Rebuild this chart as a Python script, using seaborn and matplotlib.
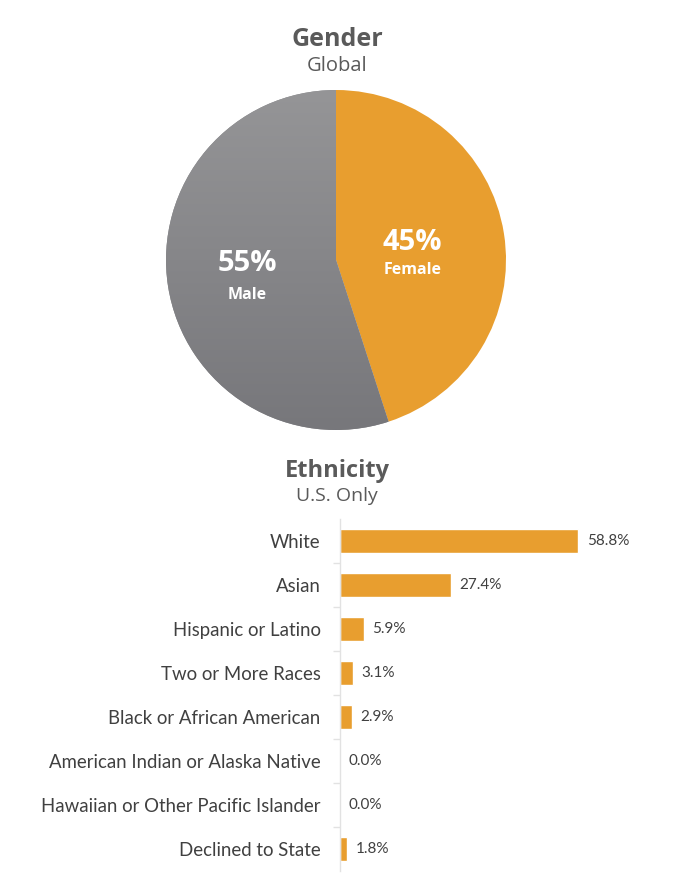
import numpy as np
import pandas as pd
import matplotlib
matplotlib.use('Agg')
import matplotlib.pyplot as plt
import seaborn as sns

# Gender split (global)
gender_labels = ['Female', 'Male']
gender_pct = [45, 55]

# Ethnicity split (U.S. only)
ethnicity = ['White', 'Asian', 'Hispanic or Latino', 'Two or More Races',
             'Black or African American', 'American Indian or Alaska Native',
             'Hawaiian or Other Pacific Islander', 'Declined to State']
ethnicity_pct = [58.8, 27.4, 5.9, 3.1, 2.9, 0.0, 0.0, 1.8]

ORANGE = '#E89E2F'
GRAY = '#8A8A8D'
TITLE_COL = '#5A5A5A'
TEXT_COL = '#404040'

sns.set_theme(style='white')
plt.rcParams['font.family'] = ['Lato', 'DejaVu Sans']

fig = plt.figure(figsize=(6.74, 8.85), dpi=100)
W, H = 674, 885

def fy(y):
    return 1 - y / H

# ---- Gender pie ----
r_px = 170
cx, cy = 336, 260
ax_pie = fig.add_axes([(cx - r_px) / W, (H - cy - r_px) / H, 2 * r_px / W, 2 * r_px / H])
wedges, _ = ax_pie.pie(gender_pct, colors=[ORANGE, GRAY], startangle=90,
                       counterclock=False, radius=1.0,
                       wedgeprops=dict(linewidth=0))
ax_pie.set_xlim(-1, 1)
ax_pie.set_ylim(-1, 1)
ax_pie.set_aspect('equal')
ax_pie.axis('off')

# slightly darker toward the bottom on the gray wedge
grad = np.linspace(0, 1, 256).reshape(-1, 1)
cmap = matplotlib.colors.LinearSegmentedColormap.from_list('g', ['#959597', '#77777B'])
im = ax_pie.imshow(grad, extent=[-1, 1, -1, 1], cmap=cmap, origin='upper',
                   aspect='auto', zorder=3)
im.set_clip_path(wedges[1])

ax_pie.text(0.45, 0.105, f'{gender_pct[0]}%', ha='center', va='center',
            color='white', fontsize=21, fontweight='bold', family=['Open Sans'], zorder=5)
ax_pie.text(0.45, -0.06, gender_labels[0], ha='center', va='center',
            color='white', fontsize=11.5, fontweight='bold', family=['Open Sans'], zorder=5)
ax_pie.text(-0.52, -0.02, f'{gender_pct[1]}%', ha='center', va='center',
            color='white', fontsize=21, fontweight='bold', family=['Open Sans'], zorder=5)
ax_pie.text(-0.52, -0.205, gender_labels[1], ha='center', va='center',
            color='white', fontsize=11.5, fontweight='bold', family=['Open Sans'], zorder=5)

fig.text(337 / W, fy(40), 'Gender', ha='center', va='center', color=TITLE_COL,
         fontsize=18, fontweight='bold', family=['Open Sans'])
fig.text(337 / W, fy(66), 'Global', ha='center', va='center', color=TITLE_COL,
         fontsize=14.5, family=['Open Sans'])

# ---- Ethnicity bars ----
df = pd.DataFrame({'group': ethnicity, 'pct': ethnicity_pct})
x0, x1 = 340, 664
top, bot = 519, 871
ax = fig.add_axes([x0 / W, (H - bot) / H, (x1 - x0) / W, (bot - top) / H])
sns.barplot(data=df, x='pct', y='group', orient='h', color=ORANGE,
            saturation=1, width=0.56, ax=ax)
ax.set_xlim(0, 80)
ax.set_ylim(len(ethnicity) - 0.5, -0.5)
for s in ['top', 'right', 'bottom']:
    ax.spines[s].set_visible(False)
ax.spines['left'].set_color('#E2E2E2')
ax.spines['left'].set_linewidth(1)
ax.set_xticks([])
ax.set_xlabel('')
ax.set_ylabel('')
ax.set_yticks(range(len(ethnicity)))
ax.set_yticklabels(ethnicity, fontsize=13.4, color=TEXT_COL)
ax.tick_params(axis='y', length=0, pad=14)
ax.set_yticks(np.arange(0.5, len(ethnicity) - 0.5, 1), minor=True)
ax.tick_params(axis='y', which='minor', length=5, color='#E2E2E2', width=1, left=True)
for i, v in enumerate(ethnicity_pct):
    ax.text(v + 2.1, i, f'{v:.1f}%', va='center', ha='left', fontsize=11, color=TEXT_COL)

fig.text(337 / W, fy(471), 'Ethnicity', ha='center', va='center', color=TITLE_COL,
         fontsize=17, fontweight='bold', family=['Open Sans'])
fig.text(337 / W, fy(496), 'U.S. Only', ha='center', va='center', color=TITLE_COL,
         fontsize=14, family=['Open Sans'])

fig.savefig('out.png', dpi=100, facecolor='white')
